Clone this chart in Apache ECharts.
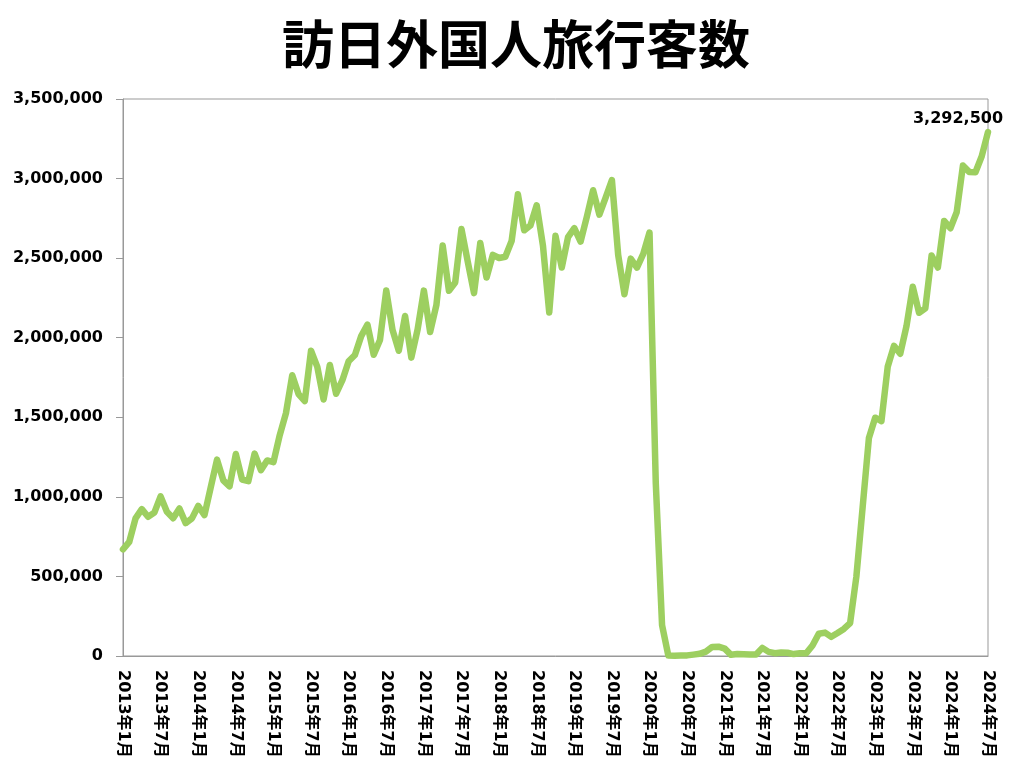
<!DOCTYPE html>
<html>
<head>
<meta charset="utf-8">
<script src="https://cdn.jsdelivr.net/npm/echarts@6/dist/echarts.min.js"></script>
<style>
html,body{margin:0;padding:0;background:#fff;}
#chart{width:1032px;height:784px;}
</style>
</head>
<body>
<div id="chart"></div>
<script>
// Monthly visitor arrivals
var y2013 = [670000, 717000, 865000, 923000, 875000, 901000, 1003000, 906000, 866000, 927000, 835000, 865000];
var y2014 = [943000, 885000, 1060000, 1234000, 1104000, 1066000, 1269000, 1109000, 1099000, 1272000, 1168000, 1229000];
var y2015 = [1218000, 1387000, 1526000, 1764000, 1646000, 1602000, 1918000, 1817000, 1612000, 1829000, 1648000, 1733000];
var y2016 = [1852000, 1891000, 2010000, 2082000, 1893000, 1986000, 2297000, 2049000, 1918000, 2136000, 1875000, 2052000];
var y2017 = [2296000, 2036000, 2205000, 2579000, 2295000, 2347000, 2683000, 2478000, 2280000, 2595000, 2378000, 2521000];
var y2018 = [2501000, 2509000, 2608000, 2901000, 2675000, 2705000, 2832000, 2578000, 2159000, 2640000, 2441000, 2632000];
var y2019 = [2689000, 2604000, 2760000, 2927000, 2773000, 2880000, 2991000, 2520000, 2273000, 2497000, 2441000, 2527000];
var y2020 = [2661000, 1085000, 194000, 2900, 1700, 2600, 3800, 8700, 13700, 27400, 56700, 58700];
var y2021 = [46500, 7400, 12300, 10900, 10000, 9300, 51100, 25900, 17700, 22100, 20700, 12100];
var y2022 = [17800, 16700, 66100, 139500, 147000, 120400, 144500, 169900, 206600, 498600, 934500, 1370100];
var y2023 = [1497300, 1475500, 1817500, 1949100, 1899200, 2073300, 2320600, 2156900, 2184300, 2516500, 2441300, 2734000];
var y2024 = [2688100, 2788000, 3081600, 3042000, 3040000, 3140000, 3292500];

var years = [2013, 2014, 2015, 2016, 2017, 2018, 2019, 2020, 2021, 2022, 2023, 2024];
var yearly = [y2013, y2014, y2015, y2016, y2017, y2018, y2019, y2020, y2021, y2022, y2023, y2024];

var categories = [];
var values = [];
years.forEach(function (yr, k) {
  yearly[k].forEach(function (v, m) {
    categories.push(yr + '年' + (m + 1) + '月');
    values.push(v);
  });
});

var titleText = '訪日外国人旅行客数';
var yTicks = { min: 0, max: 3500000, interval: 500000 };

function fmt(n) { return String(n).replace(/\B(?=(\d{3})+(?!\d))/g, ','); }

var FONT = '"DejaVu Sans", "Noto Sans CJK JP", sans-serif';
var lastIdx = values.length - 1;

var chart = echarts.init(document.getElementById('chart'), null, { renderer: 'canvas' });
chart.setOption({
  backgroundColor: '#ffffff',
  animation: false,
  title: {
    text: titleText,
    left: 'center',
    top: 13,
    textStyle: { fontFamily: '"Noto Sans CJK JP", sans-serif', fontWeight: 'bold', fontSize: 52, color: '#000' }
  },
  grid: {
    left: 123, right: 44, top: 99, bottom: 128,
    show: true, borderColor: '#999', borderWidth: 1, containLabel: false
  },
  xAxis: {
    type: 'category',
    data: categories,
    boundaryGap: false,
    axisLine: { show: true, lineStyle: { color: '#999', width: 1 } },
    axisTick: { show: false },
    splitLine: { show: false },
    axisLabel: {
      interval: 5,
      rotate: -90,
      margin: 14,
      color: '#000',
      fontFamily: FONT,
      fontWeight: 'bold',
      fontSize: 16
    }
  },
  yAxis: {
    type: 'value',
    min: yTicks.min, max: yTicks.max, interval: yTicks.interval,
    axisLine: { show: true, lineStyle: { color: '#999', width: 1 } },
    axisTick: { show: true, length: 7, lineStyle: { color: '#999' } },
    splitLine: { show: false },
    axisLabel: {
      margin: 20,
      color: '#000',
      fontFamily: FONT,
      fontWeight: 'bold',
      fontSize: 16,
      formatter: function (v) { return fmt(v); }
    }
  },
  series: [{
    type: 'line',
    showSymbol: false,
    symbol: 'none',
    smooth: false,
    lineStyle: { color: '#9DCF60', width: 6.5, cap: 'round', join: 'round' },
    itemStyle: { color: '#9DCF60' },
    data: values,
    markPoint: {
      symbol: 'circle',
      symbolSize: 1,
      itemStyle: { color: 'rgba(0,0,0,0)' },
      label: {
        show: true,
        position: 'top',
        offset: [-30, 0],
        distance: 5,
        color: '#000',
        fontFamily: FONT,
        fontWeight: 'bold',
        fontSize: 16,
        formatter: function (p) { return fmt(p.value); }
      },
      data: [{ coord: [lastIdx, values[lastIdx]], value: values[lastIdx] }]
    }
  }]
});
</script>
</body>
</html>
